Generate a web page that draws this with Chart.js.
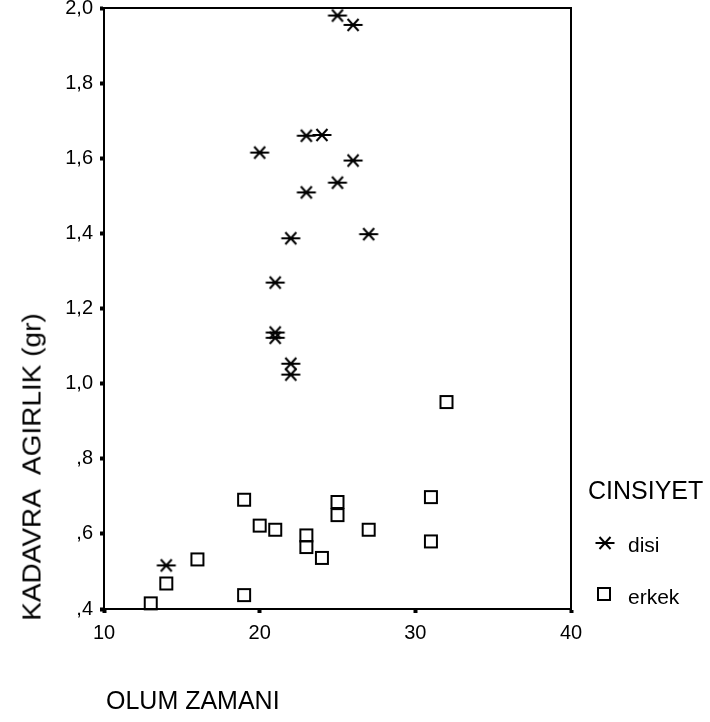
<!DOCTYPE html>
<html>
<head>
<meta charset="utf-8">
<script src="https://cdn.jsdelivr.net/npm/chart.js@4.4.1/dist/chart.umd.min.js"></script>
<style>
  body { margin: 0; background: #fff; font-family: "Liberation Sans", Arial, sans-serif; color: #000; }
  #wrap { position: relative; width: 710px; height: 722px; overflow: hidden; }
  #chart { position: absolute; left: 0; top: 0; }
  .lbl { position: absolute; white-space: nowrap; line-height: 1; }
  #ytitle { font-size: 25px; left: 32px; top: 467px; transform: translate(-50%, -50%) rotate(-90deg) scaleX(1.12); transform-origin: center; }
  #xtitle { font-size: 25px; left: 106px; top: 688px; }
  #legtitle { font-size: 25px; left: 588px; top: 478px; }
  .legtext { font-size: 21px; left: 628px; }
  .legmark { position: absolute; }
</style>
</head>
<body>
<div id="wrap">
  <canvas id="chart" width="710" height="722"></canvas>
  <div class="lbl" id="ytitle">KADAVRA&nbsp; AGIRLIK (gr)</div>
  <div class="lbl" id="xtitle">OLUM ZAMANI</div>
  <div class="lbl" id="legtitle">CINSIYET</div>
  <div class="lbl legtext" id="leg-disi" style="top:534px">disi</div>
  <div class="lbl legtext" id="leg-erkek" style="top:586px">erkek</div>
</div>
<script>
// OLUM ZAMANI (x) vs KADAVRA AGIRLIK (y), by CINSIYET
const DISI_X  = [25, 26, 23, 24, 20, 26, 25, 23, 22, 27, 21, 21, 21, 22, 22, 14];
const DISI_Y  = [1.98, 1.955, 1.66, 1.662, 1.615, 1.594, 1.535, 1.509, 1.387, 1.398, 1.269, 1.136, 1.122, 1.053, 1.024, 0.516];
const ERKEK_X = [32, 13, 14, 16, 19, 19, 20, 21, 23, 23, 24, 25, 25, 27, 31, 31];
const ERKEK_Y = [0.951, 0.415, 0.468, 0.532, 0.691, 0.437, 0.622, 0.611, 0.596, 0.565, 0.536, 0.685, 0.650, 0.611, 0.698, 0.580];

const X_TICKS = [10, 20, 30, 40];
const Y_TICKS = [0.4, 0.6, 0.8, 1.0, 1.2, 1.4, 1.6, 1.8, 2.0];

// SPSS style labels: 0,4 -> ",4"
function yLabel(v) {
  return v.toFixed(1).replace('.', ',').replace(/^0/, '');
}

function asteriskCanvas() {
  const c = document.createElement('canvas');
  c.width = 22; c.height = 16;
  const g = c.getContext('2d');
  g.strokeStyle = '#000';
  g.lineWidth = 2;
  g.beginPath();
  g.moveTo(1.5, 8); g.lineTo(20.5, 8);
  g.stroke();
  g.beginPath();
  g.moveTo(5.5, 2); g.lineTo(16.5, 14);
  g.moveTo(16.5, 2); g.lineTo(5.5, 14);
  g.stroke();
  return c;
}

function squareCanvas() {
  const c = document.createElement('canvas');
  c.width = 16; c.height = 16;
  const g = c.getContext('2d');
  g.strokeStyle = '#000';
  g.lineWidth = 2;
  g.strokeRect(2, 2, 12, 12);
  return c;
}

const starImg = asteriskCanvas();
const boxImg = squareCanvas();

// legend markers
function placeMark(img, cx, cy) {
  img.className = 'legmark';
  img.style.left = (cx - img.width / 2) + 'px';
  img.style.top = (cy - img.height / 2) + 'px';
  document.getElementById('wrap').appendChild(img);
}
placeMark(asteriskCanvas(), 605, 543);
placeMark(squareCanvas(), 604, 594);

const framePlugin = {
  id: 'frame',
  beforeDatasetsDraw(chart) {
    const { ctx, chartArea: a } = chart;
    ctx.save();
    ctx.strokeStyle = '#000';
    ctx.lineWidth = 2;
    ctx.strokeRect(a.left, a.top, a.right - a.left, a.bottom - a.top);
    ctx.restore();
  }
};

const tickFont = { family: '"Liberation Sans", Arial, sans-serif', size: 20, lineHeight: 1 };

new Chart(document.getElementById('chart'), {
  type: 'scatter',
  data: {
    datasets: [
      {
        label: 'disi',
        data: DISI_X.map((x, i) => ({ x, y: DISI_Y[i] })),
        pointStyle: starImg,
        pointRadius: 6,
        clip: false
      },
      {
        label: 'erkek',
        data: ERKEK_X.map((x, i) => ({ x, y: ERKEK_Y[i] })),
        pointStyle: boxImg,
        pointRadius: 6,
        clip: false
      }
    ]
  },
  options: {
    responsive: false,
    animation: false,
    events: [],
    layout: { padding: { top: 8, right: 139, left: 0, bottom: 0 } },
    plugins: { legend: { display: false }, tooltip: { enabled: false } },
    scales: {
      x: {
        type: 'linear',
        min: 10, max: 40,
        afterBuildTicks: s => { s.ticks = X_TICKS.map(v => ({ value: v })); },
        afterFit: s => { s.height = 113; s.paddingLeft = 0; s.paddingRight = 0; },
        ticks: { color: '#000', font: tickFont, padding: 10, maxRotation: 0 },
        grid: { display: true, drawOnChartArea: false, drawTicks: true, tickLength: 4, tickWidth: 4, tickColor: '#000', color: '#000' },
        border: { display: true, color: '#000', width: 2 }
      },
      y: {
        type: 'linear',
        min: 0.4, max: 2.0,
        afterBuildTicks: s => { s.ticks = Y_TICKS.map(v => ({ value: v })); },
        afterFit: s => { s.width = 104; s.paddingTop = 0; s.paddingBottom = 0; },
        ticks: { color: '#000', font: tickFont, padding: 7, callback: v => yLabel(v) },
        grid: { display: true, drawOnChartArea: false, drawTicks: true, tickLength: 4, tickWidth: 4, tickColor: '#000', color: '#000' },
        border: { display: true, color: '#000', width: 2 }
      }
    }
  },
  plugins: [framePlugin]
});
</script>
</body>
</html>
